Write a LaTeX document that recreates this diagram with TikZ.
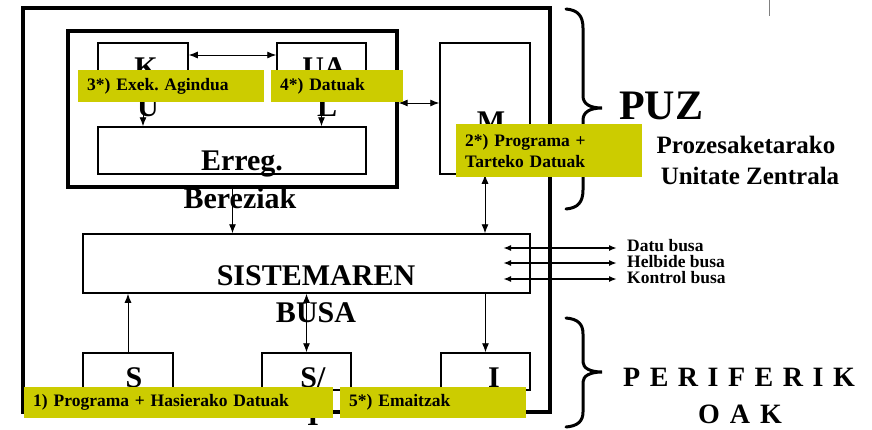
\documentclass[tikz,border=0pt]{standalone}
\usepackage{fontspec}
\setmainfont{Liberation Serif}
\usetikzlibrary{arrows.meta}
\definecolor{yel}{RGB}{204,204,0}
\frenchspacing
\newcommand{\wideskip}[1]{\spaceskip=#1\relax}
\tikzset{
  box/.style={draw, line width=1.5pt, inner sep=0, rectangle},
  thickbox/.style={draw, line width=3.3pt, inner sep=0, rectangle},
  frame/.style={draw, line width=4pt, inner sep=0, rectangle},
  arr/.style={line width=0.9pt, -{Latex[length=9pt,width=7pt]}},
  dbl/.style={line width=0.9pt, {Latex[length=9pt,width=7pt]}-{Latex[length=9pt,width=7pt]}},
  sidearr/.style={line width=1.6pt, {Latex[length=8pt,width=6pt]}-{Latex[length=8pt,width=6pt]}},
  big/.style={inner sep=0, anchor=base, font=\bfseries\fontsize{30}{36}\selectfont},
  ylab/.style={fill=yel, inner xsep=9pt, inner ysep=0, align=left, anchor=north west,
    font=\bfseries\fontsize{17.5}{21}\selectfont},
  buslab/.style={inner sep=0, anchor=base west, font=\bfseries\fontsize{17.5}{18}\selectfont},
  bracestyle/.style={line width=3pt, line cap=round},
}
\begin{document}
\begin{tikzpicture}[x=1pt, y=-1pt]
\useasboundingbox (0,0) rectangle (872,429);
% gray tick at top
\draw[gray, line width=1pt] (769,0) -- (769,16);
% outer frame
\node[frame, minimum width=527, minimum height=404] (outer) at (286.5,210) {};
% CPU core box
\node[thickbox, minimum width=329, minimum height=156] (cpu) at (232.5,109) {};
\node[box, minimum width=90, minimum height=53] (ku) at (143,69.5) {};
\node[box, minimum width=89, minimum height=53] (ual) at (321.5,69.5) {};
\node[box, minimum width=268, minimum height=47] (erreg) at (232,150.5) {};
\node[box, minimum width=90, minimum height=131] (mem) at (485,108.5) {};
\node[box, minimum width=447, minimum height=59] (bus) at (306.5,263.5) {};
\node[box, minimum width=90, minimum height=37] (sin) at (128,371.5) {};
\node[box, minimum width=89, minimum height=37] (sio) at (306.5,371.5) {};
\node[box, minimum width=89, minimum height=37] (iout) at (485.5,371.5) {};
% texts in boxes
\node[big] (tK) at (146,77) {K};
\node[big] (tU) at (148,116) {U};
\node[big] (tUA) at (324,77) {UA};
\node[big] (tL) at (327,116) {L};
\node[big] (tM) at (491,131) {M};
\node[big] (tE) at (242,170) {Erreg.};
\node[big] (tB) at (240,208) {Bereziak};
\node[big] (tS1) at (316,285) {SISTEMAREN};
\node[big] (tS2) at (316,322) {BUSA};
\node[big] (tS) at (134,387) {S};
\node[big] (tSI) at (313,387) {S/};
\node[big] (tSI2) at (313,425) {I};
\node[big] (tI) at (494,387) {I};
% connectors
\draw[dbl] ([yshift=14.5pt]ku.east) -- ([yshift=14.5pt]ual.west);
\draw[arr] (ku.south) -- (ku.south |- erreg.north);
\draw[arr] (ual.south) -- (ual.south |- erreg.north);
\draw[dbl] (cpu.east |- 0,103) -- (mem.west |- 0,103);
\draw[dbl] (mem.south) -- (mem.south |- bus.north);
\draw[arr] (cpu.south) -- (cpu.south |- bus.north);
\draw[arr] (sin.north) -- (sin.north |- bus.south);
\draw[dbl] (bus.south -| sio.north) -- (sio.north);
\draw[arr] (bus.south -| iout.north) -- (iout.north);
% bus side arrows
\coordinate (b1s) at (503,248); \coordinate (b1e) at (617,248);
\coordinate (b2s) at (503,263); \coordinate (b2e) at (617,263);
\coordinate (b3s) at (503,279); \coordinate (b3e) at (617,279);
\draw[sidearr] (b1s) -- (b1e);
\draw[sidearr] (b2s) -- (b2e);
\draw[sidearr] (b3s) -- (b3e);
\node[buslab] (l1) at (627,251) {Datu busa};
\node[buslab] (l2) at (627,267) {Helbide busa};
\node[buslab] (l3) at (627,283) {Kontrol busa};
% braces
\draw[bracestyle] (566,9) .. controls (578,10) and (583,16) .. (583,28) -- (583,96)
  .. controls (583,104) and (590,108) .. (602,108)
  .. controls (590,108) and (583,112) .. (583,120) -- (583,190)
  .. controls (583,202) and (578,208) .. (566,209);
\draw[bracestyle] (566,318) .. controls (578,319) and (583,324) .. (583,334) -- (583,362)
  .. controls (583,368) and (590,372) .. (602,372)
  .. controls (590,372) and (583,376) .. (583,382) -- (583,412)
  .. controls (583,421) and (578,426) .. (566,427);
% right-side titles
\node[inner sep=0, anchor=base west, font=\bfseries\fontsize{42}{44}\selectfont] (puz) at (619,119) {PUZ};
\node[inner sep=0, anchor=base, font=\bfseries\fontsize{25}{30}\selectfont] (pz1) at (746,153) {Prozesaketarako};
\node[inner sep=0, anchor=base, font=\bfseries\fontsize{25}{30}\selectfont] (pz2) at (750,184) {Unitate Zentrala};
\node[inner sep=0, anchor=base, font=\bfseries\fontsize{28}{30}\selectfont] (per1) at (739,386) {\wideskip{9.5pt}P E R I F E R I K};
\node[inner sep=0, anchor=base, font=\bfseries\fontsize{28}{30}\selectfont] (per2) at (740,423) {\wideskip{10pt}O A K};
% yellow labels
\node[ylab, text width=168pt, minimum height=32] (y3) at (78,70) {3*) Exek. Agindua};
\node[ylab, text width=114pt, minimum height=32] (y4) at (271,70) {4*) Datuak};
\node[ylab, text width=168pt, minimum height=53] (y2) at (456,124) {2*) Programa +\\Tarteko Datuak};
\node[ylab, text width=291pt, minimum height=31] (y1) at (24,387) {1) Programa + Hasierako Datuak};
\node[ylab, text width=168pt, minimum height=31] (y5) at (340,387) {5*) Emaitzak};
\end{tikzpicture}
\end{document}
